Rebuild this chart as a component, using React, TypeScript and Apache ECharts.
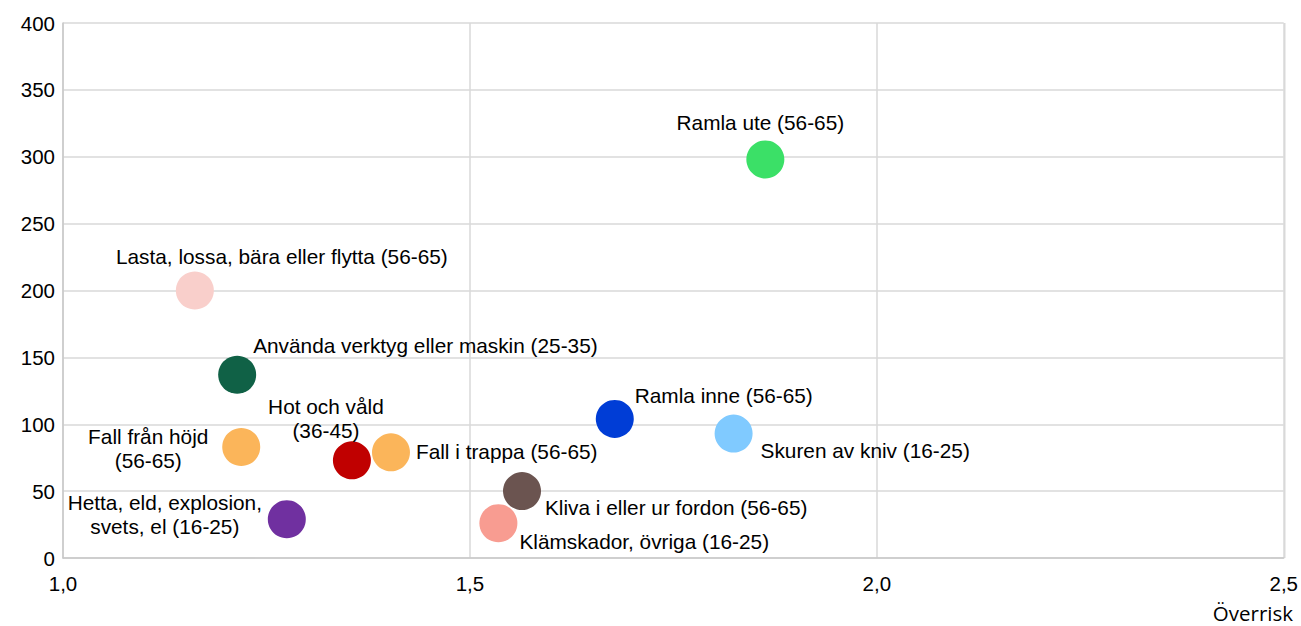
import React, { useEffect, useRef } from "react";
import * as echarts from "echarts";

const names = [
  "Ramla ute (56-65)",
  "Lasta, lossa, bära eller flytta (56-65)",
  "Använda verktyg eller maskin (25-35)",
  "Fall från höjd\n(56-65)",
  "Hot och våld\n(36-45)",
  "Fall i trappa (56-65)",
  "Hetta, eld, explosion,\nsvets, el (16-25)",
  "Klämskador, övriga (16-25)",
  "Kliva i eller ur fordon (56-65)",
  "Ramla inne (56-65)",
  "Skuren av kniv (16-25)",
];
const overrisk = [1.863, 1.162, 1.214, 1.219, 1.355, 1.403, 1.275, 1.535, 1.564, 1.678, 1.824];
const antal = [298, 200, 137, 83, 73, 79, 29, 26, 50, 104, 93];
const colors = [
  "#3BE067", "#F9CFCB", "#106146", "#FBB55A", "#C00000", "#FBB55A",
  "#7030A0", "#F89C91", "#6B5450", "#003DD6", "#80CAFF",
];
const xTicks = [1.0, 1.5, 2.0, 2.5];
const yTicks = [0, 50, 100, 150, 200, 250, 300, 350, 400];

// label placement (styling), relative to symbol centre
const SYM = 38;
const labelAlign = ["center", "center", "left", "center", "center", "left", "center", "left", "left", "left", "left"];
const labelOffset: number[][] = [
  [-5, -37], [87, -34], [16, -29], [-93, 2], [-26, -42], [25, -1],
  [-122, -5], [21, 18], [23, 16], [20, -23], [27, 17],
];

const FONT = "'Liberation Sans', Arial, Helvetica, sans-serif";

export default function App() {
  const ref = useRef<HTMLDivElement>(null);
  useEffect(() => {
    document.body.style.margin = "0";
    const chart = echarts.init(ref.current!, null, { renderer: "svg" });
    const data = names.map((n, i) => ({
      name: n,
      value: [overrisk[i], antal[i]],
      itemStyle: { color: colors[i], opacity: 1 },
      label: {
        show: true,
        position: [SYM / 2 + labelOffset[i][0], SYM / 2 + labelOffset[i][1]],
        align: labelAlign[i],
        verticalAlign: "middle",
        formatter: n,
        color: "#000",
        textBorderWidth: 0,
        fontSize: 20.8,
        fontFamily: FONT,
        lineHeight: 24,
      },
    }));
    chart.setOption({
      animation: false,
      backgroundColor: "#fff",
      grid: { left: 63, right: 16, top: 23, bottom: 68 },
      xAxis: {
        type: "value",
        min: xTicks[0],
        max: xTicks[xTicks.length - 1],
        interval: 0.5,
        axisLine: { show: true, lineStyle: { color: "#c8c8c8", width: 1.5 } },
        axisTick: { show: false },
        splitLine: { show: true, lineStyle: { color: "#d9d9d9", width: 1.5 } },
        axisLabel: {
          margin: 15,
          color: "#000",
          fontSize: 20.5,
          fontFamily: FONT,
          formatter: (v: number) => v.toFixed(1).replace(".", ","),
        },
      },
      yAxis: {
        type: "value",
        min: yTicks[0],
        max: yTicks[yTicks.length - 1],
        interval: 50,
        axisLine: { show: true, lineStyle: { color: "#c8c8c8", width: 1.5 } },
        axisTick: { show: false },
        splitLine: { show: true, lineStyle: { color: "#d9d9d9", width: 1.5 } },
        axisLabel: { margin: 8, color: "#000", fontSize: 20.5, fontFamily: FONT },
      },
      graphic: [
        {
          type: "text",
          right: 8,
          top: 602,
          style: { text: "Överrisk", fill: "#000", fontSize: 20.5, fontFamily: "'Open Sans', 'Noto Sans', sans-serif" },
        },
        {
          type: "rect",
          left: 1284,
          top: 23,
          shape: { width: 1.5, height: 535 },
          style: { fill: "#d9d9d9" },
        },
      ],
      series: [
        {
          type: "scatter",
          symbol: "circle",
          symbolSize: SYM,
          data,
        },
      ],
    });
    return () => chart.dispose();
  }, []);
  return <div ref={ref} style={{ width: 1301, height: 626 }} />;
}
